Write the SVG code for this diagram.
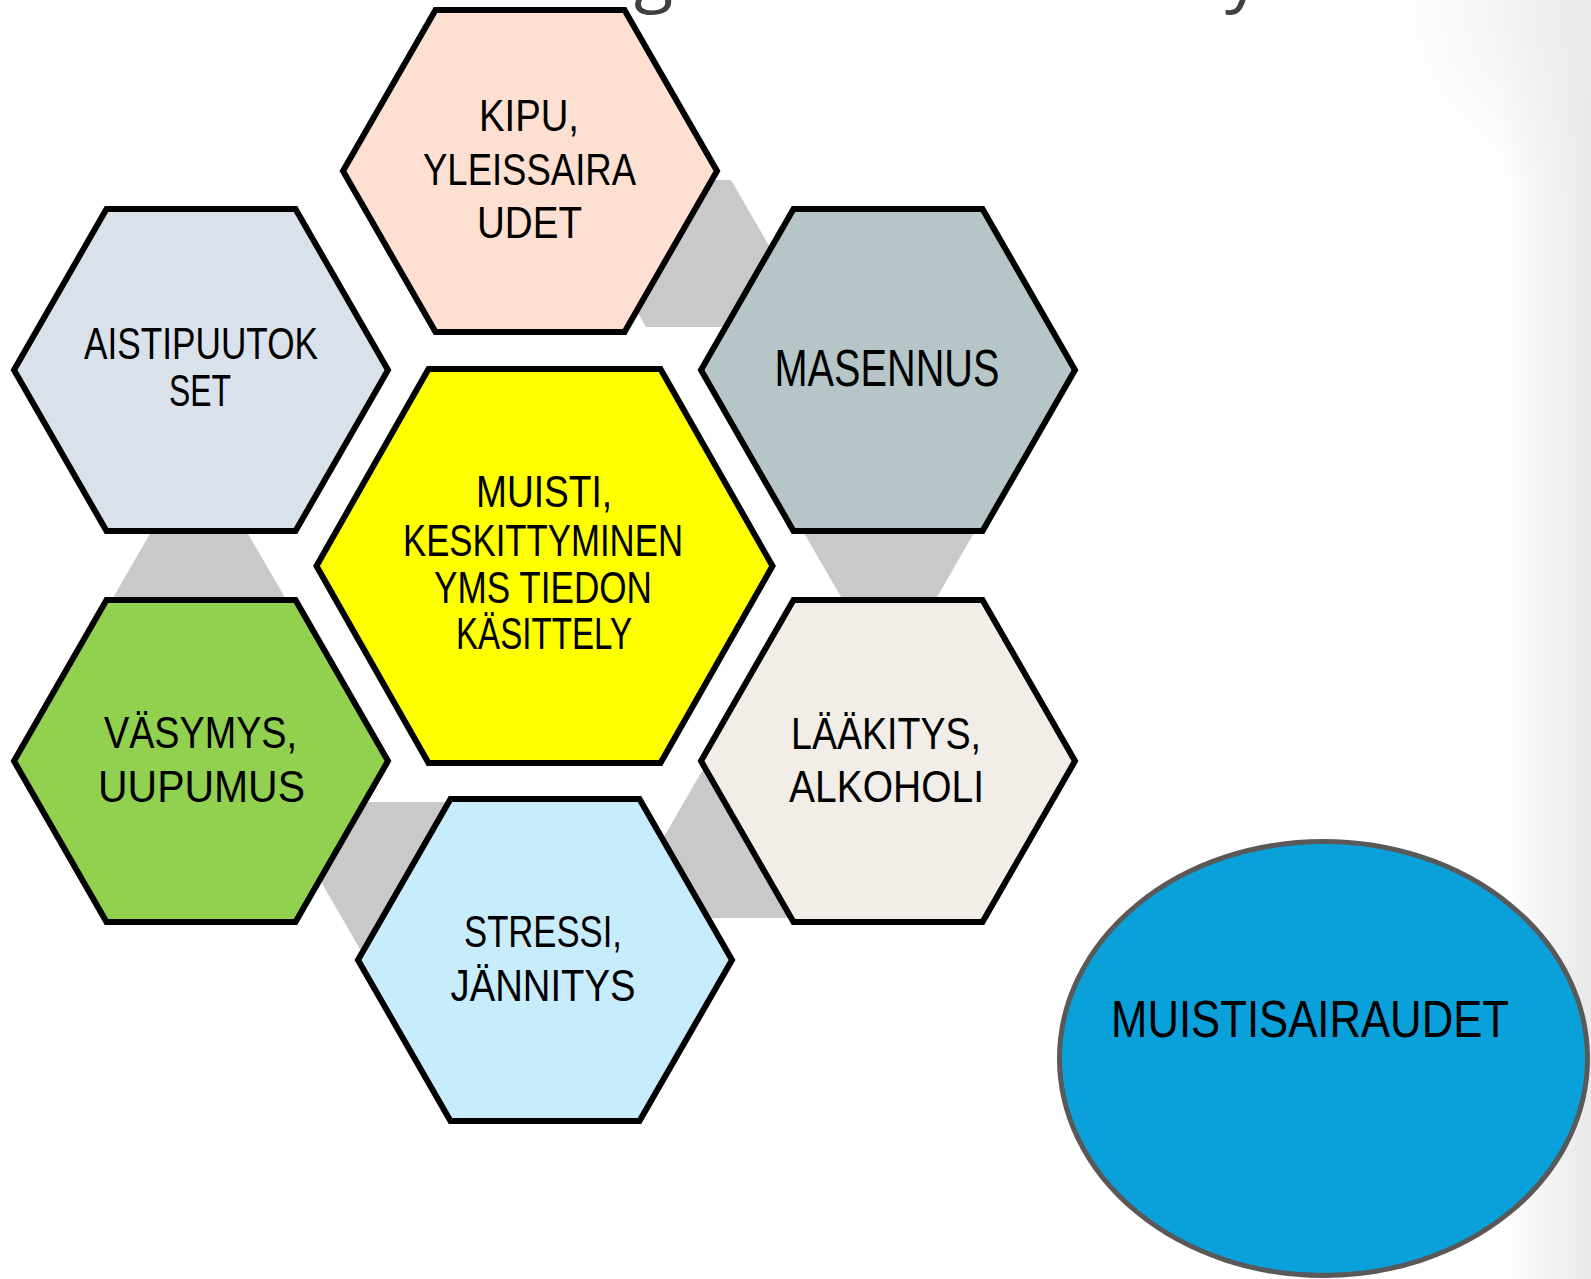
<svg xmlns="http://www.w3.org/2000/svg" width="1591" height="1279" viewBox="0 0 1591 1279">
  <defs>
    <linearGradient id="bgfade" gradientUnits="userSpaceOnUse" x1="1500" y1="0" x2="1591" y2="0">
      <stop offset="0" stop-color="#e6e6e6" stop-opacity="0"/>
      <stop offset="1" stop-color="#e6e6e6" stop-opacity="0.9"/>
    </linearGradient>
    <radialGradient id="cornerfade" gradientUnits="userSpaceOnUse" cx="1591" cy="0" r="200">
      <stop offset="0" stop-color="#ececec" stop-opacity="1"/>
      <stop offset="1" stop-color="#ececec" stop-opacity="0"/>
    </radialGradient>
    <style>
      .hex { stroke: #000000; stroke-width: 6; stroke-linejoin: miter; }
      .gray { fill: #c9c9c9; stroke: none; }
      .lbl { font-family: "Liberation Sans", Arial, sans-serif; font-size: 45px; fill: #000000; text-anchor: middle; }
      .title { font-family: "Open Sans", "Liberation Sans", sans-serif; font-size: 72px; fill: #404040; }
    </style>
  </defs>

  <rect x="0" y="0" width="1591" height="1279" fill="#ffffff"/>
  <rect x="1300" y="0" width="291" height="1279" fill="url(#bgfade)"/>
  <rect x="1300" y="0" width="291" height="400" fill="url(#cornerfade)"/>

  <g id="title-fragment">
    <text class="title" x="634" y="-2">g</text>
    <text class="title" x="1225" y="-2">y</text>
  </g>

  <g id="connectors">
    <polygon class="gray" points="603.5,253.5 646,180 731,180 773.5,253.5 731,327 646,327"/>
    <polygon class="gray" points="804,533 846.5,459.4 931.5,459.4 974,533 931.5,606.6 846.5,606.6"/>
    <polygon class="gray" points="659.5,844.5 702,770.9 787,770.9 829.5,844.5 787,918.1 702,918.1"/>
    <polygon class="gray" points="317.5,875.6 360,802 445,802 487.5,875.6 445,949.2 360,949.2"/>
    <polygon class="gray" points="114,596 156.5,522.4 241.5,522.4 284,596 241.5,669.6 156.5,669.6"/>
  </g>

  <g id="node-kipu">
    <polygon class="hex" fill="#fde0d1" points="343,171 435.5,10 624.5,10 717,171 624.5,332 435.5,332"/>
    <text class="lbl" x="529" y="131" textLength="100" lengthAdjust="spacingAndGlyphs">KIPU,</text>
    <text class="lbl" x="529.5" y="185" textLength="213" lengthAdjust="spacingAndGlyphs">YLEISSAIRA</text>
    <text class="lbl" x="529.5" y="238" textLength="105" lengthAdjust="spacingAndGlyphs">UDET</text>
  </g>

  <g id="node-aisti">
    <polygon class="hex" fill="#d9e1ea" points="14,370 106.5,209 295.5,209 388,370 295.5,531 106.5,531"/>
    <text class="lbl" x="201" y="359" textLength="234" lengthAdjust="spacingAndGlyphs">AISTIPUUTOK</text>
    <text class="lbl" x="200" y="406" textLength="62" lengthAdjust="spacingAndGlyphs">SET</text>
  </g>

  <g id="node-masennus">
    <polygon class="hex" fill="#b5c5c8" points="701,370 793.5,209 982.5,209 1075,370 982.5,531 793.5,531"/>
    <text class="lbl" x="887" y="386" style="font-size:51px" textLength="225" lengthAdjust="spacingAndGlyphs">MASENNUS</text>
  </g>

  <g id="node-vasymys">
    <polygon class="hex" fill="#92d050" points="14,761 106.5,600 295.5,600 388,761 295.5,922 106.5,922"/>
    <text class="lbl" x="200.5" y="748" textLength="193" lengthAdjust="spacingAndGlyphs">VÄSYMYS,</text>
    <text class="lbl" x="201.5" y="802" textLength="207" lengthAdjust="spacingAndGlyphs">UUPUMUS</text>
  </g>

  <g id="node-laakitys">
    <polygon class="hex" fill="#f2ede7" points="701,761 793.5,600 982.5,600 1075,761 982.5,922 793.5,922"/>
    <text class="lbl" x="886" y="749" textLength="190" lengthAdjust="spacingAndGlyphs">LÄÄKITYS,</text>
    <text class="lbl" x="886.5" y="802" textLength="195" lengthAdjust="spacingAndGlyphs">ALKOHOLI</text>
  </g>

  <g id="node-stressi">
    <polygon class="hex" fill="#c7ecfc" points="358,960 450.5,799 639.5,799 732,960 639.5,1121 450.5,1121"/>
    <text class="lbl" x="543" y="947" textLength="158" lengthAdjust="spacingAndGlyphs">STRESSI,</text>
    <text class="lbl" x="543" y="1000.5" textLength="185" lengthAdjust="spacingAndGlyphs">JÄNNITYS</text>
  </g>

  <g id="node-muisti">
    <polygon class="hex" fill="#ffff00" points="316.5,566 428.5,369 660.5,369 772.5,566 660.5,763 428.5,763"/>
    <text class="lbl" x="544" y="507" textLength="136" lengthAdjust="spacingAndGlyphs">MUISTI,</text>
    <text class="lbl" x="543" y="556" textLength="280" lengthAdjust="spacingAndGlyphs">KESKITTYMINEN</text>
    <text class="lbl" x="543" y="603" textLength="218" lengthAdjust="spacingAndGlyphs">YMS TIEDON</text>
    <text class="lbl" x="544" y="649" textLength="176" lengthAdjust="spacingAndGlyphs">KÄSITTELY</text>
  </g>

  <g id="node-muistisairaudet">
    <ellipse cx="1323.5" cy="1058.5" rx="264" ry="217" fill="#0aa1da" stroke="#595959" stroke-width="5"/>
    <text class="lbl" x="1310" y="1037" style="font-size:52px" textLength="398" lengthAdjust="spacingAndGlyphs">MUISTISAIRAUDET</text>
  </g>
</svg>
